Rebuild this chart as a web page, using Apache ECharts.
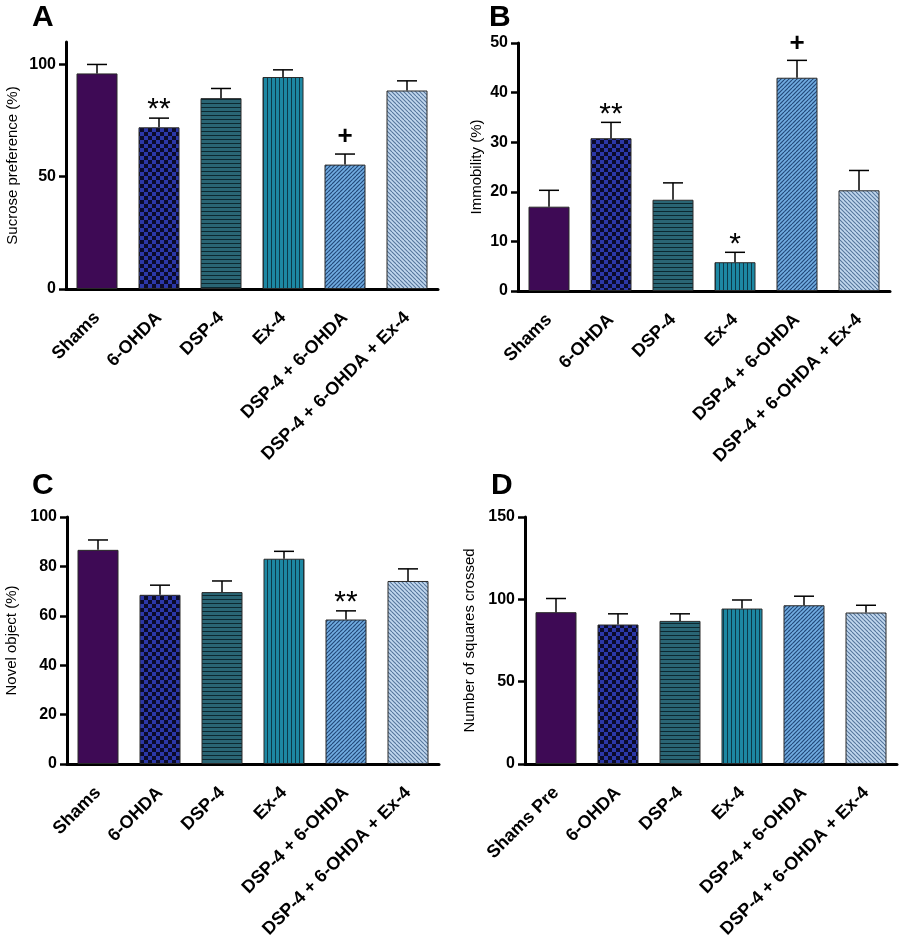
<!DOCTYPE html>
<html>
<head>
<meta charset="utf-8">
<script src="https://cdn.jsdelivr.net/npm/echarts@6/dist/echarts.min.js"></script>
<style>
html, body { margin: 0; padding: 0; background: #fff; }
#chart { width: 900px; height: 939px; }
</style>
</head>
<body>
<div id="chart"></div>
<script>
// groups (x axis)
var groups = ['Shams', '6-OHDA', 'DSP-4', 'Ex-4', 'DSP-4 + 6-OHDA', 'DSP-4 + 6-OHDA + Ex-4'];
var groupsD = ['Shams Pre', '6-OHDA', 'DSP-4', 'Ex-4', 'DSP-4 + 6-OHDA', 'DSP-4 + 6-OHDA + Ex-4'];

// A - sucrose preference
var sucroseMean = [96, 72, 85, 94.4, 55.4, 88.4];
var sucroseSem  = [4, 4.1, 4.3, 3.2, 4.7, 4.3];
var sucroseSig  = ['', '**', '', '', '+', ''];

// B - immobility
var immobMean = [17.0, 30.8, 18.4, 5.8, 43.0, 20.3];
var immobSem  = [3.3, 3.2, 3.4, 2.0, 3.5, 4.0];
var immobSig  = ['', '**', '', '*', '+', ''];

// C - novel object
var novelMean = [86.7, 68.5, 69.6, 83.1, 58.5, 74.1];
var novelSem  = [4.0, 3.9, 4.5, 3.0, 3.5, 4.9];
var novelSig  = ['', '', '', '', '**', ''];

// D - squares crossed
var squaresMean = [92.2, 84.7, 86.9, 94.4, 96.4, 92.0];
var squaresSem  = [8.3, 6.5, 4.3, 5.2, 5.5, 4.4];
var squaresSig  = ['', '', '', '', '', ''];

var FONT = 'Liberation Sans, Arial, sans-serif';

// fill patterns for the bars
function tile(w, h, draw) {
    var c = document.createElement('canvas');
    c.width = w; c.height = h;
    draw(c.getContext('2d'));
    return { image: c, repeat: 'repeat' };
}
function diag(bg, fg, lw, dir) {
    return tile(8, 8, function (g) {
        g.fillStyle = bg; g.fillRect(0, 0, 8, 8);
        g.strokeStyle = fg; g.lineWidth = lw;
        for (var x = -12; x <= 12; x += 4) {
            g.beginPath();
            if (dir > 0) { g.moveTo(x, 8); g.lineTo(x + 8, 0); }
            else { g.moveTo(x, 0); g.lineTo(x + 8, 8); }
            g.stroke();
        }
    });
}
var fills = [
    '#3e0a55',
    tile(8, 8, function (g) {
        g.fillStyle = '#0b0b2a'; g.fillRect(0, 0, 8, 8);
        g.fillStyle = '#2c38a8'; g.fillRect(0, 0, 4, 4); g.fillRect(4, 4, 4, 4);
    }),
    tile(4, 4, function (g) {
        g.fillStyle = '#2a6574'; g.fillRect(0, 0, 4, 4);
        g.fillStyle = '#0c2830'; g.fillRect(0, 3, 4, 1);
    }),
    tile(4, 4, function (g) {
        g.fillStyle = '#1d88a3'; g.fillRect(0, 0, 4, 4);
        g.fillStyle = '#0d3a4a'; g.fillRect(3, 0, 1, 4);
    }),
    diag('#72ade2', '#24497a', 1.2, 1),
    diag('#c2d8ef', '#56769c', 1.1, -1)
];

var panels = [
    { cats: groups,  mean: sucroseMean, sem: sucroseSem, sig: sucroseSig, name: 'Sucrose preference (%)', max: 110, interval: 50, ticks: [0, 50, 100], gap: 46,
      grid: { left: 66, top: 42, width: 372, height: 247 } },
    { cats: groups,  mean: immobMean, sem: immobSem, sig: immobSig, name: 'Immobility (%)', max: 50, interval: 10, gap: 34,
      grid: { left: 518, top: 43, width: 372, height: 248 } },
    { cats: groups,  mean: novelMean, sem: novelSem, sig: novelSig, name: 'Novel object (%)', max: 100, interval: 20, gap: 48,
      grid: { left: 67, top: 517, width: 372, height: 247 } },
    { cats: groupsD, mean: squaresMean, sem: squaresSem, sig: squaresSig, name: 'Number of squares crossed', max: 150, interval: 50, gap: 48,
      grid: { left: 525, top: 517, width: 372, height: 247 } }
];

var grids = [], xAxes = [], yAxes = [], series = [];
panels.forEach(function (p, k) {
    grids.push(Object.assign({ outerBoundsMode: 'none', containLabel: false }, p.grid));
    xAxes.push({
        type: 'category', gridIndex: k, data: p.cats,
        axisLine: { lineStyle: { color: '#000', width: 3 } },
        axisTick: { alignWithLabel: true, length: 6, lineStyle: { color: '#000', width: 2.5 } },
        axisLabel: { interval: 0, rotate: 45, margin: 26, color: '#000', fontFamily: FONT, fontWeight: 'bold', fontSize: 18 }
    });
    var yLabel = { margin: 10, color: '#000', fontFamily: FONT, fontWeight: 'bold', fontSize: 16 };
    var yTick = { show: true, length: 7, lineStyle: { color: '#000', width: 2.5 } };
    if (p.ticks) { yLabel.customValues = p.ticks; yTick.customValues = p.ticks; }
    yAxes.push({
        type: 'value', gridIndex: k, min: 0, max: p.max, interval: p.interval,
        name: p.name, nameLocation: 'middle', nameGap: p.gap,
        nameTextStyle: { color: '#000', fontFamily: FONT, fontSize: 15 },
        axisLine: { show: true, lineStyle: { color: '#000', width: 3 } },
        axisTick: yTick,
        axisLabel: yLabel,
        splitLine: { show: false }
    });
    series.push({
        type: 'bar', xAxisIndex: k, yAxisIndex: k, barWidth: 41,
        data: p.mean.map(function (v, i) {
            return { value: v, itemStyle: { color: fills[i] } };
        }),
        itemStyle: { borderColor: '#2a2a2a', borderWidth: 1 },
        silent: true, animation: false
    });
    series.push({
        type: 'custom', xAxisIndex: k, yAxisIndex: k,
        data: p.mean.map(function (v, i) { return [i, v, v + p.sem[i]]; }),
        renderItem: function (params, api) {
            var base = api.coord([api.value(0), api.value(1)]);
            var top = api.coord([api.value(0), api.value(2)]);
            var mark = p.sig[params.dataIndex];
            var kids = [
                { type: 'line', shape: { x1: base[0], y1: base[1], x2: top[0], y2: top[1] }, style: { stroke: '#000', lineWidth: 1.5 } },
                { type: 'line', shape: { x1: top[0] - 10, y1: top[1], x2: top[0] + 10, y2: top[1] }, style: { stroke: '#000', lineWidth: 1.5 } }
            ];
            if (mark) {
                var isPlus = mark === '+';
                kids.push({
                    type: 'text',
                    style: {
                        text: mark, x: top[0], y: top[1] - (isPlus ? 17 : 8),
                        align: 'center', verticalAlign: 'middle',
                        fontFamily: FONT, fontWeight: isPlus ? 'bold' : 'normal',
                        fontSize: isPlus ? 26 : 30, fill: '#000'
                    }
                });
            }
            return { type: 'group', children: kids };
        },
        silent: true, animation: false, z: 3
    });
});

var letters = [['A', 32, 3], ['B', 489, 3], ['C', 32, 471], ['D', 491, 471]];

var chart = echarts.init(document.getElementById('chart'));
chart.setOption({
    backgroundColor: '#fff',
    animation: false,
    grid: grids,
    xAxis: xAxes,
    yAxis: yAxes,
    series: series,
    graphic: letters.map(function (l) {
        return { type: 'text', left: l[1], top: l[2], style: { text: l[0], font: 'bold 30px ' + FONT, fill: '#000' } };
    })
});
</script>
</body>
</html>
